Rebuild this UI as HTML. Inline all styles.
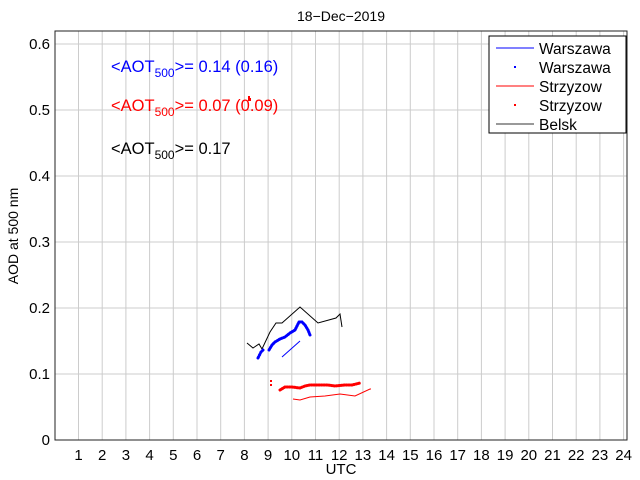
<!DOCTYPE html>
<html><head><meta charset="utf-8"><style>
html,body{margin:0;padding:0;background:#fff;}
svg{display:block;font-family:"Liberation Sans",sans-serif;}
</style></head><body>
<svg width="640" height="480" viewBox="0 0 640 480">
<rect width="640" height="480" fill="#fff"/>
<g stroke="#cccccc" stroke-width="1">
<line x1="78.5" y1="31" x2="78.5" y2="440"/><line x1="102.2" y1="31" x2="102.2" y2="440"/><line x1="125.9" y1="31" x2="125.9" y2="440"/><line x1="149.6" y1="31" x2="149.6" y2="440"/><line x1="173.3" y1="31" x2="173.3" y2="440"/><line x1="197" y1="31" x2="197" y2="440"/><line x1="220.7" y1="31" x2="220.7" y2="440"/><line x1="244.4" y1="31" x2="244.4" y2="440"/><line x1="268.1" y1="31" x2="268.1" y2="440"/><line x1="291.8" y1="31" x2="291.8" y2="440"/><line x1="315.5" y1="31" x2="315.5" y2="440"/><line x1="339.2" y1="31" x2="339.2" y2="440"/><line x1="362.9" y1="31" x2="362.9" y2="440"/><line x1="386.6" y1="31" x2="386.6" y2="440"/><line x1="410.3" y1="31" x2="410.3" y2="440"/><line x1="434" y1="31" x2="434" y2="440"/><line x1="457.7" y1="31" x2="457.7" y2="440"/><line x1="481.4" y1="31" x2="481.4" y2="440"/><line x1="505.1" y1="31" x2="505.1" y2="440"/><line x1="528.8" y1="31" x2="528.8" y2="440"/><line x1="552.5" y1="31" x2="552.5" y2="440"/><line x1="576.2" y1="31" x2="576.2" y2="440"/><line x1="599.9" y1="31" x2="599.9" y2="440"/><line x1="623.6" y1="31" x2="623.6" y2="440"/>
<line x1="55" y1="374" x2="627" y2="374"/><line x1="55" y1="308" x2="627" y2="308"/><line x1="55" y1="242" x2="627" y2="242"/><line x1="55" y1="176" x2="627" y2="176"/><line x1="55" y1="110" x2="627" y2="110"/><line x1="55" y1="44" x2="627" y2="44"/>
</g>
<rect x="55" y="31" width="572" height="409" fill="none" stroke="#222" stroke-width="1"/>
<g font-size="15" fill="#000" text-anchor="end">
<text x="50" y="445">0</text><text x="50" y="379">0.1</text><text x="50" y="313">0.2</text><text x="50" y="247">0.3</text><text x="50" y="181">0.4</text><text x="50" y="115">0.5</text><text x="50" y="49">0.6</text>
</g>
<g font-size="15" fill="#000" text-anchor="middle">
<text x="78.5" y="460">1</text><text x="102.2" y="460">2</text><text x="125.9" y="460">3</text><text x="149.6" y="460">4</text><text x="173.3" y="460">5</text><text x="197" y="460">6</text><text x="220.7" y="460">7</text><text x="244.4" y="460">8</text><text x="268.1" y="460">9</text><text x="291.8" y="460">10</text><text x="315.5" y="460">11</text><text x="339.2" y="460">12</text><text x="362.9" y="460">13</text><text x="386.6" y="460">14</text><text x="410.3" y="460">15</text><text x="434" y="460">16</text><text x="457.7" y="460">17</text><text x="481.4" y="460">18</text><text x="505.1" y="460">19</text><text x="528.8" y="460">20</text><text x="552.5" y="460">21</text><text x="576.2" y="460">22</text><text x="599.9" y="460">23</text><text x="623.6" y="460">24</text>
<text x="341" y="474">UTC</text>
<text x="341" y="21" font-size="14">18−Dec−2019</text>
</g>
<text transform="translate(18,236) rotate(-90)" font-size="14" text-anchor="middle">AOD at 500 nm</text>
<polyline fill="none" stroke="#000" stroke-width="1" points="247,343 253,348 259,344 262,349 270,332 276,323 282,323 300,307 318,323 336,318 340,314 342,327"/>
<line x1="282" y1="357" x2="300" y2="341" stroke="#00f" stroke-width="1"/>
<polyline fill="none" stroke="#00f" stroke-width="3" stroke-linecap="round" stroke-dasharray="1 2" points="258,358 261,352 263,350"/>
<polyline fill="none" stroke="#00f" stroke-width="3" stroke-linecap="round" stroke-dasharray="1 1.5" points="269,350 272,345 275,342 280,339 285,337 290,333 295,330 299,322 302,322 305,325 308,330 310,335"/>
<polyline fill="none" stroke="#f00" stroke-width="1" points="293,399 300,400 310,397 325,396 340,394 355,396 370,389 371,389"/>
<polyline fill="none" stroke="#f00" stroke-width="3" stroke-linecap="round" stroke-dasharray="1 1.5" points="280,390 285,387 292,387 300,388 305,386 310,385 320,385 328,385 335,386 345,385 352,385 360,383"/>
<g fill="#f00"><rect x="270" y="380" width="2" height="2"/><rect x="270" y="384" width="2" height="2"/><rect x="248" y="96" width="2" height="4"/><rect x="248" y="98" width="3" height="3"/></g>
<g font-size="16.5">
<text x="111" y="72" fill="#00f">&lt;AOT<tspan font-size="12" dy="5">500</tspan><tspan dy="-5">&gt;= 0.14 (0.16)</tspan></text>
<text x="111" y="111" fill="#f00">&lt;AOT<tspan font-size="12" dy="5">500</tspan><tspan dy="-5">&gt;= 0.07 (0.09)</tspan></text>
<text x="111" y="154" fill="#000">&lt;AOT<tspan font-size="12" dy="5">500</tspan><tspan dy="-5">&gt;= 0.17</tspan></text>
</g>
<rect x="489" y="36" width="137" height="97" fill="#fff" stroke="#000" stroke-width="1"/>
<g stroke-width="1">
<line x1="496" y1="48" x2="534" y2="48" stroke="#00f"/>
<line x1="496" y1="86" x2="534" y2="86" stroke="#f00"/>
<line x1="496" y1="124" x2="534" y2="124" stroke="#333"/>
</g>
<rect x="514" y="66" width="2" height="2" fill="#00f"/>
<rect x="514" y="104" width="2" height="2" fill="#f00"/>
<g font-size="15.5" fill="#000">
<text x="539" y="54">Warszawa</text><text x="539" y="73">Warszawa</text><text x="539" y="92">Strzyzow</text><text x="539" y="111">Strzyzow</text><text x="539" y="130">Belsk</text>
</g>
</svg>
</body></html>
